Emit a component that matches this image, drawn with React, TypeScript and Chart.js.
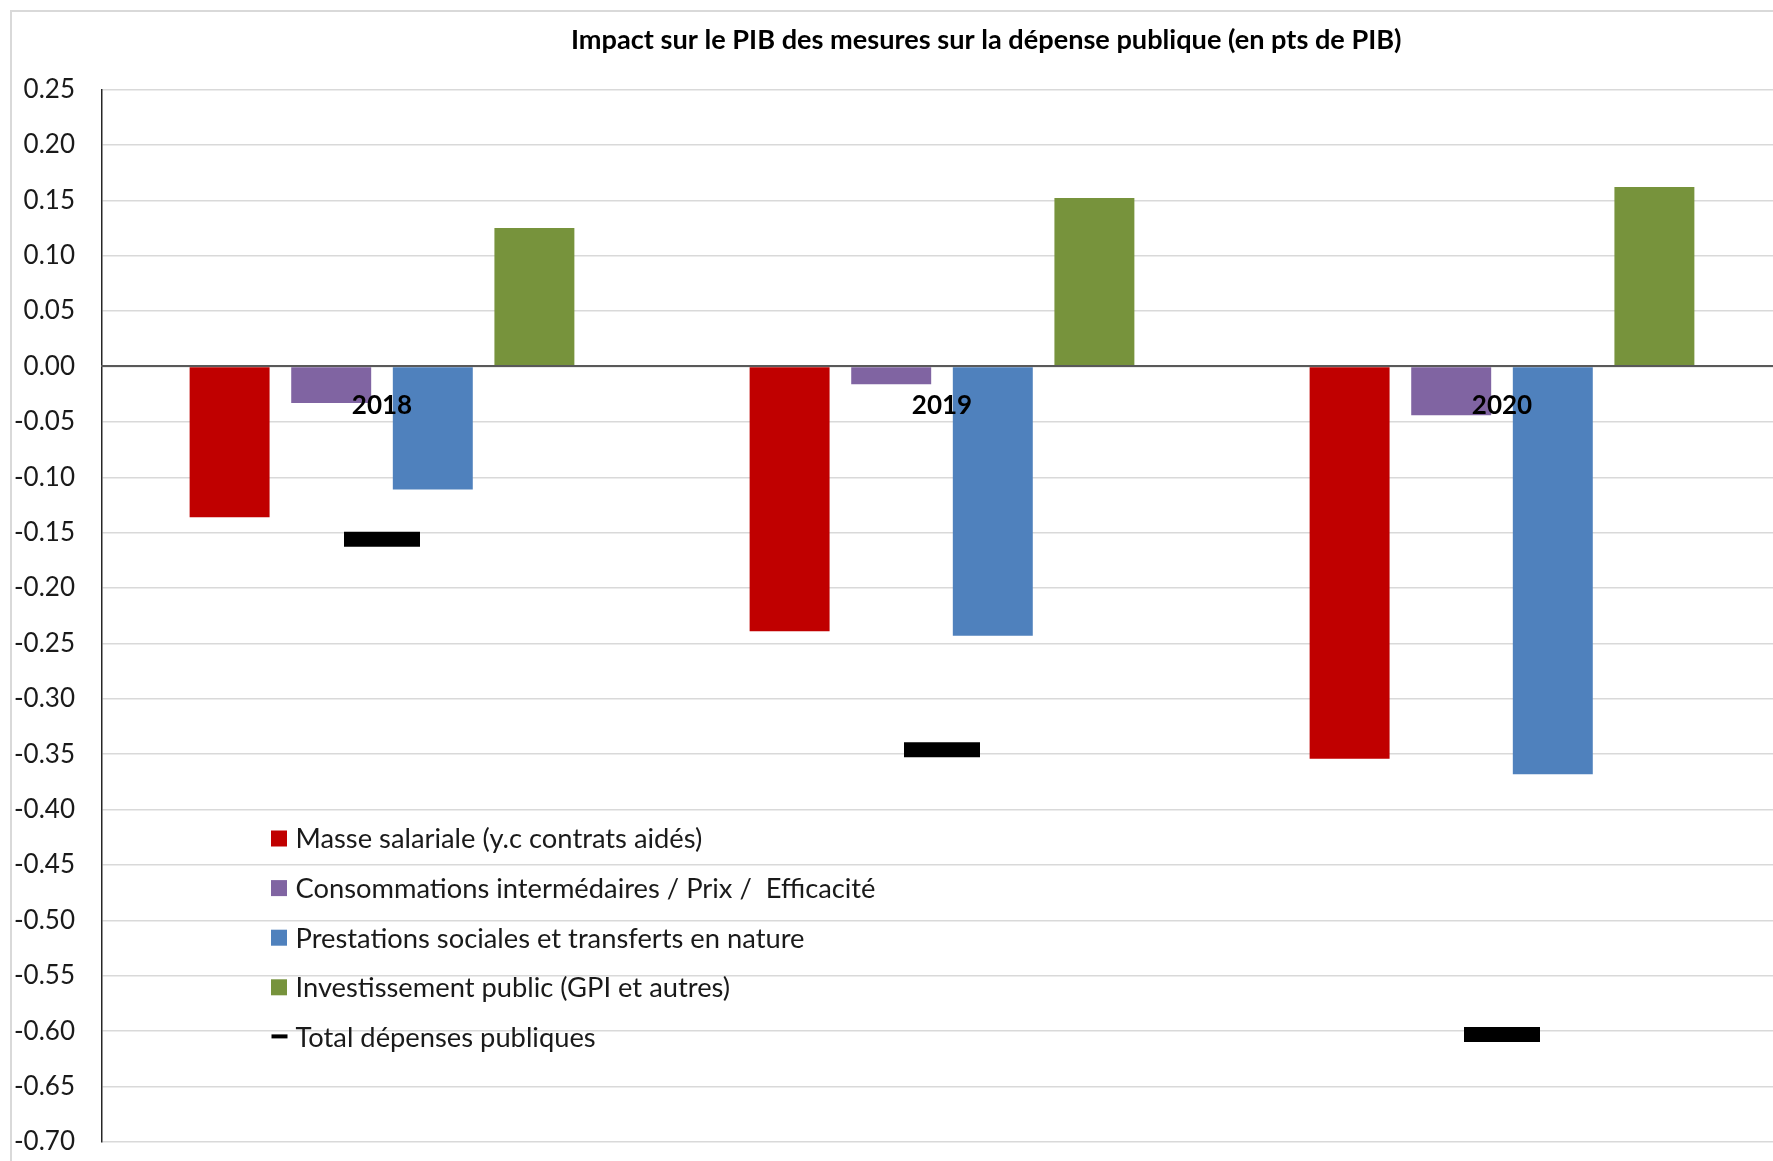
import React, { useEffect, useRef } from "react";
import { Chart, registerables } from "chart.js";

Chart.register(...registerables);

// Years on the category axis
const years = ["2018", "2019", "2020"];

// Contributions (pts de PIB)
const masseSalariale = [-0.136, -0.239, -0.354];
const consommations = [-0.033, -0.016, -0.044];
const prestations = [-0.111, -0.243, -0.368];
const investissement = [0.125, 0.152, 0.162];
const totalDepenses = [-0.156, -0.346, -0.603];

const seriesLabels = [
  "Masse salariale (y.c contrats aidés)",
  "Consommations intermédaires / Prix /  Efficacité",
  "Prestations sociales et transferts en nature",
  "Investissement public (GPI et autres)",
  "Total dépenses publiques",
];
const seriesColors = ["#C00000", "#8064A2", "#4F81BD", "#77933C", "#000000"];

// Value axis
const yMin = -0.7;
const yMax = 0.25;
const yStep = 0.05;

const chartTitle =
  "Impact sur le PIB des mesures sur la dépense publique (en pts de PIB)";

const FONT = "Lato, 'Open Sans', sans-serif";

function fitSize(
  ctx: CanvasRenderingContext2D,
  text: string,
  width: number,
  weight: string
) {
  ctx.font = `${weight} 100px ${FONT}`;
  const w = ctx.measureText(text).width;
  return (100 * width) / w;
}

function noScalePadding(s: any) {
  s.paddingLeft = 0;
  s.paddingRight = 0;
  s.paddingTop = 0;
  s.paddingBottom = 0;
}

// Frame, title and the in-plot legend
const decorations = {
  id: "decorations",
  beforeDraw(chart: any) {
    const ctx: CanvasRenderingContext2D = chart.ctx;
    ctx.save();
    ctx.fillStyle = "#ffffff";
    ctx.fillRect(0, 0, chart.width, chart.height);
    ctx.strokeStyle = "#d9d9d9";
    ctx.lineWidth = 2;
    ctx.strokeRect(11, 11, chart.width + 20, chart.height + 20);
    ctx.restore();
  },
  afterDraw(chart: any) {
    const ctx: CanvasRenderingContext2D = chart.ctx;
    ctx.save();
    // title
    const ts = fitSize(ctx, chartTitle, 831, "bold");
    ctx.font = `bold ${ts}px ${FONT}`;
    ctx.fillStyle = "#000000";
    ctx.textAlign = "left";
    ctx.textBaseline = "alphabetic";
    ctx.fillText(chartTitle, 571, 48.5);

    // legend
    const ls = fitSize(ctx, seriesLabels[0], 407, "normal");
    ctx.font = `${ls}px ${FONT}`;
    ctx.textBaseline = "middle";
    const datasets = chart.data.datasets;
    datasets.forEach((ds: any, i: number) => {
      const cy = 838.5 + i * 49.6;
      if (ds.type === "line") {
        ctx.fillStyle = ds.borderColor;
        ctx.fillRect(271.5, cy - 2.5, 16, 4);
      } else {
        ctx.fillStyle = ds.backgroundColor;
        ctx.fillRect(271, cy - 8, 16, 16);
      }
      ctx.fillStyle = "#1a1a1a";
      ctx.fillText(ds.label, 295.5, cy + 1);
    });
    ctx.restore();
  },
};

export default function App() {
  const canvasRef = useRef<HTMLCanvasElement | null>(null);

  useEffect(() => {
    document.body.style.margin = "0";
    document.body.style.overflow = "hidden";
    const canvas = canvasRef.current;
    if (!canvas) return;

    const barSeries = [masseSalariale, consommations, prestations, investissement];

    const chart = new Chart(canvas, {
      type: "bar",
      data: {
        labels: years,
        datasets: [
          ...barSeries.map((values, i) => ({
            type: "bar" as const,
            label: seriesLabels[i],
            data: values,
            backgroundColor: seriesColors[i],
            borderWidth: 0,
            categoryPercentage: 0.7257,
            barPercentage: 0.787,
          })),
          {
            type: "line" as const,
            label: seriesLabels[4],
            data: totalDepenses,
            showLine: false,
            borderColor: seriesColors[4],
            backgroundColor: seriesColors[4],
            pointStyle: "line",
            pointRadius: 38,
            pointHoverRadius: 38,
            pointBorderWidth: 15,
            pointHoverBorderWidth: 15,
            borderWidth: 15,
          },
        ],
      },
      options: {
        responsive: false,
        animation: false,
        events: [],
        layout: {
          autoPadding: false,
          padding: { left: 0, top: 89.5, right: 8, bottom: 19 },
        },
        plugins: {
          legend: { display: false },
          tooltip: { enabled: false },
          title: { display: false },
        },
        scales: {
          x: {
            position: { y: 0 } as any,
            offset: true,
            grid: { display: false, drawTicks: false },
            border: { display: true, color: "#595959", width: 2, z: 1 },
            ticks: {
              font: { family: FONT, size: 26, weight: "bold" },
              color: "#000000",
              padding: 23.5,
              maxRotation: 0,
              autoSkip: false,
              z: 2,
            },
            afterFit: (s: any) => {
              s.height = 0;
              noScalePadding(s);
            },
          },
          y: {
            min: yMin,
            max: yMax,
            grid: { color: "#d9d9d9", lineWidth: 1.5, drawTicks: false },
            border: { display: true, color: "#262626", width: 1.5 },
            ticks: {
              stepSize: yStep,
              callback: (v: any) => Number(v).toFixed(2),
              font: { family: FONT, size: 26 },
              color: "#1a1a1a",
              padding: 27,
              autoSkip: false,
            },
            afterFit: (s: any) => {
              s.width = 102;
              noScalePadding(s);
            },
          },
        },
      },
      plugins: [decorations],
    });

    return () => chart.destroy();
  }, []);

  return (
    <div
      style={{
        position: "fixed",
        left: 0,
        top: 0,
        width: 1773,
        height: 1161,
        overflow: "hidden",
        background: "#ffffff",
      }}
    >
      <canvas
        ref={canvasRef}
        width={1790}
        height={1161}
        style={{ display: "block" }}
      />
    </div>
  );
}
